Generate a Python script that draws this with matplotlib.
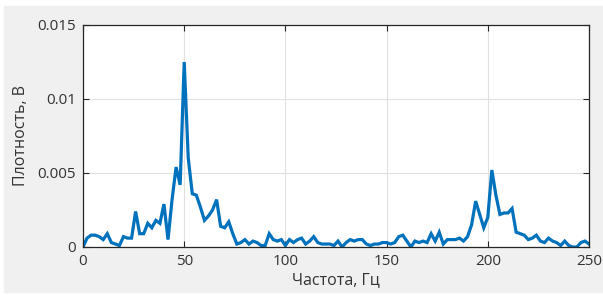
import matplotlib
matplotlib.use('Agg')
import matplotlib.pyplot as plt
from matplotlib.patches import Rectangle

# частота, Гц (шаг 2 Гц)
freq = list(range(0, 252, 2))
# плотность, В
dens = [0.0, 0.0006, 0.0008, 0.0008, 0.0007, 0.0005, 0.0009, 0.0003, 0.0002, 0.0001,
        0.0007, 0.0006, 0.0006, 0.0024, 0.0009, 0.0009, 0.0016, 0.0013, 0.0018, 0.0016,
        0.0029, 0.0005, 0.0032, 0.0054, 0.0042, 0.0125, 0.0060, 0.0036, 0.0035, 0.0027,
        0.0018, 0.0021, 0.0025, 0.0032, 0.0014, 0.0013, 0.0017, 0.0009, 0.0002, 0.0003,
        0.0005, 0.0002, 0.0004, 0.0003, 0.0001, 0.0001, 0.0009, 0.0005, 0.0004, 0.0005,
        0.0001, 0.0005, 0.0003, 0.0005, 0.0006, 0.0002, 0.0004, 0.0007, 0.0003, 0.0002,
        0.0002, 0.0002, 0.0001, 0.0004, 0.0000, 0.0003, 0.0005, 0.0004, 0.0005, 0.0005,
        0.0002, 0.0001, 0.0002, 0.0002, 0.0003, 0.0003, 0.0002, 0.0003, 0.0007, 0.0008,
        0.0004, 0.0000, 0.0004, 0.0003, 0.0004, 0.0003, 0.0009, 0.0004, 0.0010, 0.0002,
        0.0005, 0.0005, 0.0005, 0.0006, 0.0004, 0.0007, 0.0015, 0.0031, 0.0022, 0.0013,
        0.0020, 0.0052, 0.0035, 0.0022, 0.0023, 0.0023, 0.0026, 0.0010, 0.0009, 0.0008,
        0.0005, 0.0006, 0.0008, 0.0004, 0.0003, 0.0006, 0.0004, 0.0003, 0.0001, 0.0004,
        0.0001, 0.0000, 0.0000, 0.0003, 0.0004, 0.0002]

xticks = [0, 50, 100, 150, 200, 250]
yticks = [0, 0.005, 0.01, 0.015]
yticklabels = ['0', '0.005', '0.01', '0.015']

plt.rcParams['font.family'] = ['Open Sans', 'DejaVu Sans']
plt.rcParams['font.size'] = 11

fig = plt.figure(figsize=(6.03, 2.95), dpi=100, facecolor='white')
fig.patches.append(Rectangle((4 / 603, 3 / 295), 599 / 603, 286 / 295,
                             transform=fig.transFigure, color='#f0f0f0', zorder=-5))
ax = fig.add_axes([83 / 603, 1 - 247 / 295, 506 / 603, 222 / 295])
ax.set_facecolor('white')

ax.plot(freq, dens, color='#0072BD', lw=2.3, solid_joinstyle='miter')

ax.set_xlim(0, 250)
ax.set_ylim(0, 0.015)
ax.set_xticks(xticks)
ax.set_yticks(yticks)
ax.set_yticklabels(yticklabels)
ax.grid(True, color='#e0e0e0', lw=0.8)
ax.set_axisbelow(True)
ax.tick_params(direction='in', top=True, right=True, length=4, width=0.8,
               colors='#262626', labelcolor='#333333', pad=5)
for s in ax.spines.values():
    s.set_color('#262626')
    s.set_linewidth(0.9)

ax.set_xlabel('Частота, Гц', color='#333333', fontsize=11.5, labelpad=2)
ax.set_ylabel('Плотность, В', color='#333333', fontsize=11.5, labelpad=6)

fig.savefig('out.png', dpi=100)
